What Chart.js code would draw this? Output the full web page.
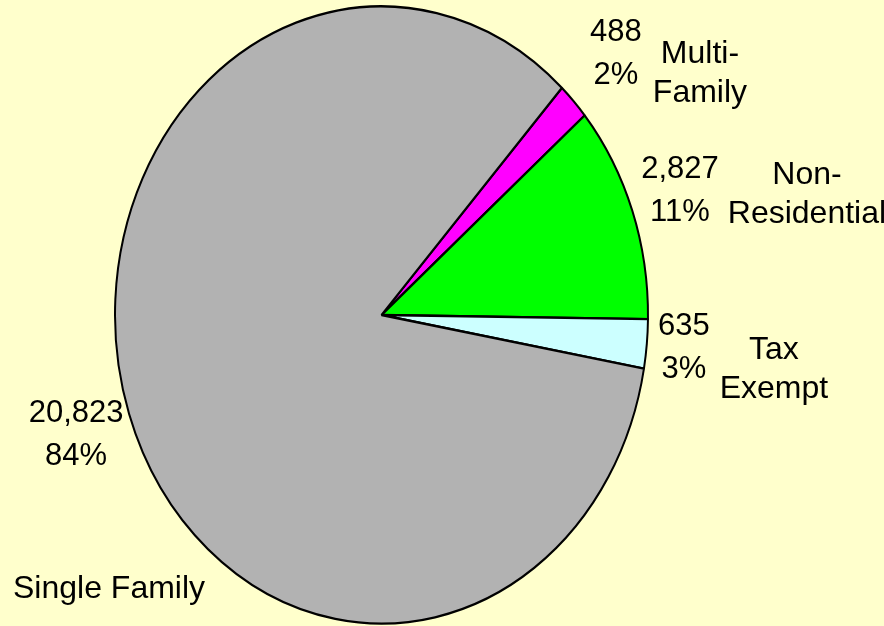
<!DOCTYPE html>
<html>
<head>
<meta charset="UTF-8">
<title>Parcels by land use</title>
<script src="https://cdn.jsdelivr.net/npm/chart.js"></script>
<style>
  html, body { margin: 0; padding: 0; background: #ffffcc; }
  #pie { display: block; }
</style>
</head>
<body>
<canvas id="pie" width="884" height="626"></canvas>
<script>
const categories = ["Multi-Family", "Non-Residential", "Tax Exempt", "Single Family"];
const valeurs = [488, 2827, 635, 20823];
const couleurs = ["#ff00ff", "#00ff00", "#ccffff", "#b2b2b2"];
// category names as they are broken on the chart
const nomsLignes = [["Multi-", "Family"], ["Non-", "Residential"], ["Tax", "Exempt"], ["Single Family"]];

// label layout (distance from centre in radii, offset of the name block)
const distLabel = [1.22, 1.19, 1.14, 1.21];
const decalNom = [[84, 19], [127, 4], [90, 22], [33, 154]];

const etirementY = 308 / 266; // pie is drawn as an ellipse
const policeValeur = "31px 'Liberation Sans', Arial, sans-serif";
const policeNom = "32px 'Liberation Sans', Arial, sans-serif";

const total = valeurs.reduce((a, b) => a + b, 0);

const ellipsePlugin = {
    id: "ellipse",
    beforeDatasetsDraw(chart) {
        const arc = chart.getDatasetMeta(0).data[0];
        const ctx = chart.ctx;
        ctx.save();
        ctx.translate(arc.x, arc.y);
        ctx.scale(1, etirementY);
        ctx.translate(-arc.x, -arc.y);
    },
    afterDatasetsDraw(chart) {
        const ctx = chart.ctx;
        ctx.restore();

        ctx.save();
        ctx.fillStyle = "#000";
        ctx.textAlign = "center";
        ctx.textBaseline = "middle";
        chart.getDatasetMeta(0).data.forEach((arc, i) => {
            const p = arc.getProps(["x", "y", "startAngle", "endAngle", "outerRadius"], true);
            const a = (p.startAngle + p.endAngle) / 2;
            const x = p.x + Math.cos(a) * p.outerRadius * distLabel[i];
            const y = p.y + Math.sin(a) * p.outerRadius * distLabel[i] * etirementY;
            const pct = Math.round(valeurs[i] / total * 100) + "%";
            ctx.font = policeValeur;
            ctx.fillText(valeurs[i].toLocaleString("en-US"), x, y - 21.5);
            ctx.fillText(pct, x, y + 21.5);

            ctx.font = policeNom;
            const lignes = nomsLignes[i];
            const nx = x + decalNom[i][0];
            const ny = y + decalNom[i][1];
            lignes.forEach((t, j) => {
                ctx.fillText(t, nx, ny + (j - (lignes.length - 1) / 2) * 39);
            });
        });
        ctx.restore();
    }
};

new Chart(document.getElementById("pie"), {
    type: "pie",
    data: {
        labels: categories,
        datasets: [{
            data: valeurs,
            backgroundColor: couleurs,
            borderColor: "#000",
            borderWidth: 2,
            clip: false
        }]
    },
    options: {
        responsive: false,
        animation: false,
        rotation: 42.6,
        layout: { padding: { left: 114, right: 235, top: 47, bottom: 43 } },
        plugins: {
            legend: { display: false },
            tooltip: { enabled: false }
        },
        events: []
    },
    plugins: [ellipsePlugin]
});
</script>
</body>
</html>
